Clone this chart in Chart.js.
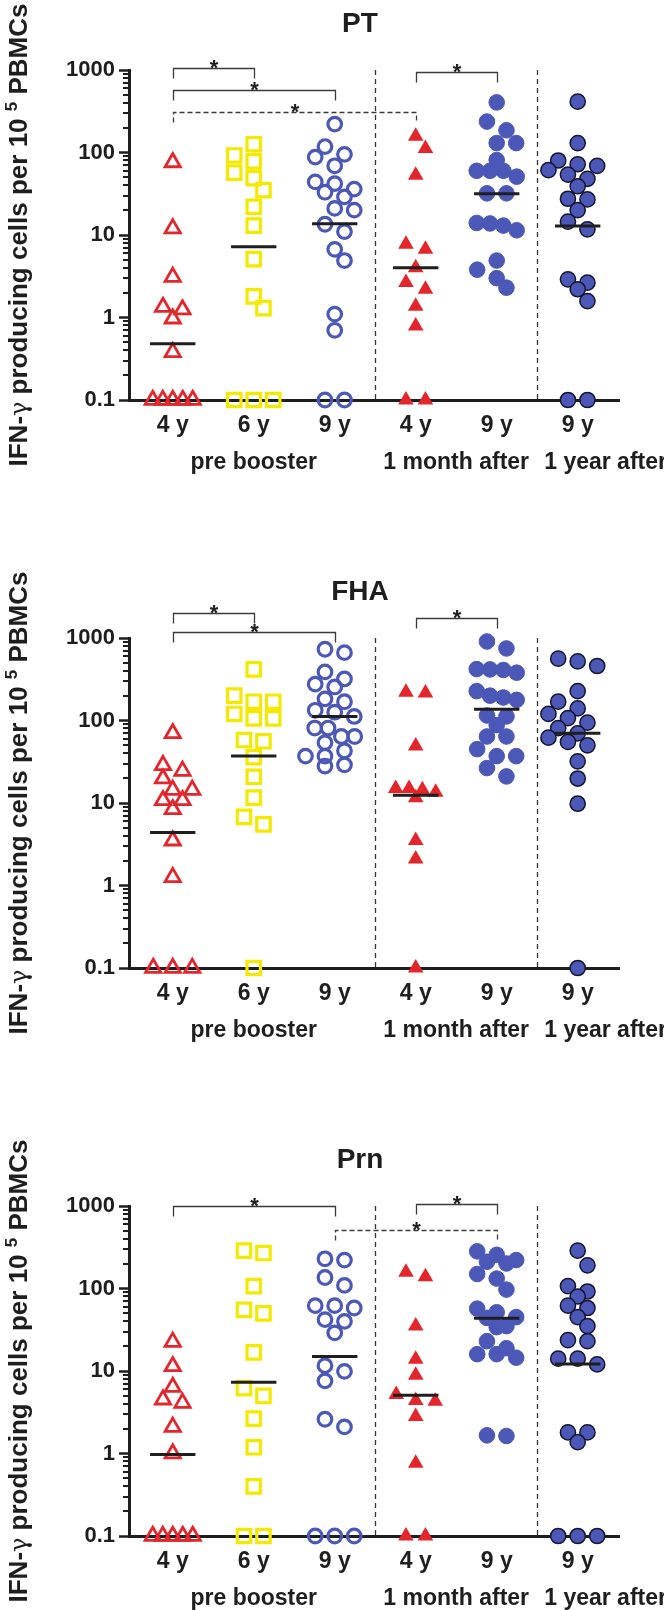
<!DOCTYPE html>
<html lang="en">
<head>
    <meta charset="UTF-8">
    <title>IFN-γ producing cells</title>
    <script src="https://cdn.jsdelivr.net/npm/chart.js"></script>
    <style>
        body {
            margin: 0;
            background: #fff;
            width: 664px;
            height: 1610px;
            overflow: hidden;
            position: relative;
        }
        canvas {
            position: absolute;
            left: 0;
        }
    </style>
</head>
<body>
    <canvas id="ptChart" width="664" height="480" style="top:0px"></canvas>
    <canvas id="fhaChart" width="664" height="480" style="top:568px"></canvas>
    <canvas id="prnChart" width="664" height="480" style="top:1136px"></canvas>

    <script>
        // categories and tick labels
        const categories = ['4 y', '6 y', '9 y', '4 y', '9 y', '9 y'];
        const periods = ['pre booster', '1 month after', '1 year after'];
        const yTicks = [0.1, 1, 10, 100, 1000];

        // PT (undetectable responses are plotted at 0.1)
        const pt4y = [76, 12, 3.1, 1.34, 1.25, 0.97, 0.38, 0.1, 0.1, 0.1, 0.1, 0.1];
        const pt6y = [126, 92, 78, 57, 49, 35, 22, 13, 5.1, 1.8, 1.3, 0.1, 0.1, 0.1];
        const pt9y = [221, 118, 95, 88, 69, 44, 42, 36, 33, 29, 21, 20, 13.5, 11, 6.7, 4.9, 1.1, 0.7, 0.1, 0.1];
        const ptMonth4y = [157, 112, 53, 7.7, 6.7, 4.0, 2.65, 2.2, 1.37, 0.79, 0.1, 0.1];
        const ptMonth9y = [405, 237, 186, 130, 130, 81, 60, 60, 60, 51, 32, 32, 14, 13.8, 13, 11.4, 4.9, 3.8, 3.0, 2.3];
        const ptYear9y = [413, 130, 80, 72, 69, 61, 54, 48, 39, 27.5, 27, 20, 14.5, 11.7, 2.9, 2.65, 2.2, 1.58, 0.1, 0.1];
        const ptMedians = [0.48, 7.2, 13.7, 4.0, 31.6, 12.9];
        const ptBrackets = [[0, 1, 1057, false], [0, 2, 572, false], [0, 3, 310, true], [3, 4, 946, false]];

        // FHA
        const fha4y = [70, 28.7, 24.5, 19.8, 14.4, 14.4, 10.8, 10.8, 8.4, 3.5, 1.26, 0.1, 0.1, 0.1];
        const fha6y = [416, 200, 169, 169, 120, 106, 106, 58, 56, 36, 20.8, 11.6, 6.8, 5.5, 0.1];
        const fha9y = [731, 664, 388, 319, 276, 255, 183, 169, 133, 126, 112, 81, 81, 64, 64, 54, 43, 37, 37, 29, 28];
        const fhaMonth4y = [220, 216, 49, 15, 15, 14.5, 13.5, 11.6, 3.5, 2.1, 0.1];
        const fhaMonth9y = [907, 747, 420, 416, 410, 380, 227, 200, 190, 178, 115, 112, 88, 64, 64, 45, 37, 37, 26.5, 21];
        const fhaYear9y = [562, 520, 458, 227, 169, 140, 120, 107, 94, 81, 70, 62, 55, 50, 32, 19.8, 9.8, 0.1];
        const fhaMedians = [4.4, 37, 112, 12.4, 137, 70];
        const fhaBrackets = [[0, 1, 2010, false], [0, 2, 1183, false], [3, 4, 1740, false]];

        // Prn
        const prn4y = [22.5, 11.4, 6.4, 4.5, 4.1, 2.1, 1.0, 0.1, 0.1, 0.1, 0.1, 0.1];
        const prn6y = [288, 269, 107, 55, 50, 16.8, 6.2, 5.0, 2.65, 1.19, 0.4, 0.1, 0.1];
        const prn9y = [229, 221, 136, 109, 62, 62, 58, 42, 40, 29, 11.6, 9.9, 7.6, 2.6, 2.1, 0.1, 0.1, 0.1];
        const prnMonth4y = [157, 139, 35, 13.9, 8.9, 5.2, 4.4, 4.3, 2.8, 0.76, 0.1, 0.1];
        const prnMonth9y = [282, 256, 221, 211, 201, 150, 132, 97, 57, 51.5, 45, 44, 35, 34, 23, 18.9, 16, 16, 14.5, 1.66, 1.63];
        const prnYear9y = [288, 191, 107, 92, 80, 62, 58, 45, 35, 23.7, 23, 14.1, 14.1, 12, 1.8, 1.8, 1.37, 0.1, 0.1, 0.1];
        const prnMedians = [0.97, 7.3, 15, 5.1, 43.7, 12.2];
        const prnBrackets = [[0, 2, 1000, false], [3, 4, 1069, false], [2, 4, 516, true]];

        const FONT = "'Liberation Sans', Arial, sans-serif";
        const DARK = '#1e1e1e';
        const RED = '#e3262b';
        const YELLOW = '#f3ea00';
        const BLUE = '#4c58b8';

        // plot area inside each canvas
        const PLOT_LEFT = 129, PLOT_RIGHT = 619, PLOT_TOP = 70, PLOT_BOTTOM = 400, CANVAS_H = 480;
        const X_MIN = -0.54, X_MAX = 5.51;
        const PX_DECADE = (PLOT_BOTTOM - PLOT_TOP) / 4;
        const PX_UNIT = (PLOT_RIGHT - PLOT_LEFT) / (X_MAX - X_MIN);

        const markers = [
            { pointStyle: 'triangle', pointRadius: 8.8, pointBackgroundColor: 'rgba(0,0,0,0)', pointBorderColor: RED, pointBorderWidth: 2.8 },
            { pointStyle: 'rect', pointRadius: 9.5, pointBackgroundColor: 'rgba(0,0,0,0)', pointBorderColor: YELLOW, pointBorderWidth: 3.2 },
            { pointStyle: 'circle', pointRadius: 6.8, pointBackgroundColor: 'rgba(0,0,0,0)', pointBorderColor: BLUE, pointBorderWidth: 3.2 },
            { pointStyle: 'triangle', pointRadius: 9, pointBackgroundColor: RED, pointBorderColor: RED, pointBorderWidth: 0 },
            { pointStyle: 'circle', pointRadius: 7.8, pointBackgroundColor: BLUE, pointBorderColor: BLUE, pointBorderWidth: 1 },
            { pointStyle: 'circle', pointRadius: 7.6, pointBackgroundColor: BLUE, pointBorderColor: '#16162e', pointBorderWidth: 1.5 }
        ];

        // column scatter layout: rows of close values spread symmetrically
        const STEP = 19.5, SPAN = 40, ROW_GAP = 9, DIAM = 15;
        function swarm(values, index) {
            const sorted = values.slice().sort((a, b) => b - a);
            const rows = [];
            sorted.forEach(v => {
                const py = Math.log10(v) * PX_DECADE;
                const last = rows[rows.length - 1];
                if (last && last.y0 - py < ROW_GAP) last.vals.push(v);
                else rows.push({ y0: py, vals: [v] });
            });
            const placed = [];
            rows.forEach(r => {
                const n = r.vals.length;
                const step = n > 1 ? Math.min(STEP, SPAN / (n - 1)) : STEP;
                const base = r.vals.map((v, k) => ({ v, py: Math.log10(v) * PX_DECADE, dx: (k - (n - 1) / 2) * step }));
                let best = 0, bestScore = -1;
                [0, STEP / 2, -STEP / 2].forEach(shift => {
                    let minD = Infinity;
                    base.forEach(b => placed.forEach(p => {
                        minD = Math.min(minD, Math.hypot(b.dx + shift - p.dx, b.py - p.py));
                    }));
                    const score = Math.min(minD, DIAM);
                    if (score > bestScore + 0.01) { bestScore = score; best = shift; }
                });
                base.forEach(b => placed.push({ v: b.v, py: b.py, dx: b.dx + best }));
            });
            return placed.map(p => ({ x: index + p.dx / PX_UNIT, y: p.v }));
        }

        function drawYLabel(ctx, cx, cy) {
            const parts = [
                { t: 'IFN-', f: 'bold 26px ' + FONT, dy: 0 },
                { t: 'γ', f: "24px 'DejaVu Serif'", dy: 1 },
                { t: ' producing cells per 10 ', f: 'bold 26px ' + FONT, dy: 0 },
                { t: '5', f: 'bold 17px ' + FONT, dy: -8 },
                { t: ' PBMCs', f: 'bold 26px ' + FONT, dy: 0 }
            ];
            let total = 0;
            parts.forEach(p => { ctx.font = p.f; p.w = ctx.measureText(p.t).width; total += p.w; });
            ctx.save();
            ctx.translate(cx, cy);
            ctx.rotate(-Math.PI / 2);
            ctx.textBaseline = 'middle';
            ctx.textAlign = 'left';
            ctx.fillStyle = DARK;
            let xPos = -total / 2;
            parts.forEach(p => {
                ctx.font = p.f;
                ctx.fillText(p.t, xPos, p.dy);
                xPos += p.w;
            });
            ctx.restore();
        }

        const panelDecor = {
            id: 'panelDecor',
            afterDatasetsDraw(chart, args, opts) {
                const { ctx, chartArea, scales: { x, y } } = chart;
                ctx.save();

                // minor ticks on the log axis
                ctx.strokeStyle = DARK;
                ctx.lineWidth = 2;
                y.ticks.forEach(t => {
                    if (yTicks.includes(t.value)) return;
                    const py = Math.round(y.getPixelForValue(t.value));
                    ctx.beginPath();
                    ctx.moveTo(chartArea.left - 6, py);
                    ctx.lineTo(chartArea.left, py);
                    ctx.stroke();
                });

                // dashed separators between periods
                ctx.lineWidth = 1.3;
                ctx.strokeStyle = '#333';
                ctx.setLineDash([5, 4]);
                [2.5, 4.5].forEach(v => {
                    const px = Math.round(x.getPixelForValue(v)) + 0.5;
                    ctx.beginPath();
                    ctx.moveTo(px, y.getPixelForValue(1000));
                    ctx.lineTo(px, y.getPixelForValue(0.1));
                    ctx.stroke();
                });

                // significance brackets
                ctx.strokeStyle = '#3a3a3a';
                ctx.lineWidth = 1.3;
                ctx.fillStyle = DARK;
                ctx.font = 'bold 22px ' + FONT;
                ctx.textAlign = 'center';
                ctx.textBaseline = 'alphabetic';
                opts.brackets.forEach(([from, to, level, dashed]) => {
                    const x1 = Math.round(x.getPixelForValue(from)) + 0.5;
                    const x2 = Math.round(x.getPixelForValue(to)) + 0.5;
                    const py = Math.round(y.getPixelForValue(level)) + 0.5;
                    ctx.setLineDash(dashed ? [5, 3] : []);
                    ctx.beginPath();
                    ctx.moveTo(x1, py + 10);
                    ctx.lineTo(x1, py);
                    ctx.lineTo(x2, py);
                    ctx.lineTo(x2, py + 10);
                    ctx.stroke();
                    ctx.fillText('*', (x1 + x2) / 2, py + 6);
                });
                ctx.setLineDash([]);

                // period labels under the category labels
                ctx.font = 'bold 23px ' + FONT;
                ctx.textBaseline = 'middle';
                ctx.textAlign = 'center';
                const ly = chartArea.bottom + 63;
                ctx.fillText(periods[0], x.getPixelForValue(1), ly);
                ctx.fillText(periods[1], x.getPixelForValue(3.5), ly);
                ctx.textAlign = 'left';
                ctx.fillText(periods[2], x.getPixelForValue(4.5) + 7, ly);

                // panel title
                ctx.textAlign = 'center';
                ctx.font = 'bold 28px ' + FONT;
                ctx.fillText(opts.title, 360, chartArea.top - 46);

                ctx.restore();

                drawYLabel(ctx, 20, (chartArea.top + chartArea.bottom) / 2);
            }
        };

        function makePanel(canvasId, title, groups, medians, brackets) {
            const datasets = groups.map((vals, i) => Object.assign({
                type: 'scatter',
                data: swarm(vals, i),
                clip: false,
                order: 1
            }, markers[i]));

            const medianPoints = [];
            medians.forEach((m, i) => {
                medianPoints.push({ x: i - 0.28, y: m }, { x: i + 0.28, y: m }, { x: i + 0.5, y: null });
            });
            datasets.push({
                type: 'line',
                data: medianPoints,
                borderColor: DARK,
                borderWidth: 3,
                pointRadius: 0,
                spanGaps: false,
                clip: false,
                order: 0
            });

            const ctx = document.getElementById(canvasId).getContext('2d');
            return new Chart(ctx, {
                type: 'scatter',
                data: { datasets: datasets },
                plugins: [panelDecor],
                options: {
                    responsive: false,
                    animation: false,
                    events: [],
                    layout: { padding: { top: PLOT_TOP, right: 664 - PLOT_RIGHT, left: 0, bottom: 0 } },
                    plugins: {
                        legend: { display: false },
                        tooltip: { enabled: false },
                        panelDecor: { title: title, brackets: brackets }
                    },
                    scales: {
                        x: {
                            type: 'linear',
                            min: X_MIN,
                            max: X_MAX,
                            afterBuildTicks: s => { s.ticks = categories.map((c, i) => ({ value: i })); },
                            afterFit: s => { s.height = CANVAS_H - PLOT_BOTTOM; },
                            grid: { display: false, drawTicks: false },
                            border: { display: true, width: 3, color: DARK },
                            ticks: {
                                autoSkip: false,
                                maxRotation: 0,
                                padding: 12,
                                color: DARK,
                                font: { family: FONT, size: 23, weight: 'bold' },
                                callback: v => categories[v]
                            }
                        },
                        y: {
                            type: 'logarithmic',
                            min: 0.1,
                            max: 1000,
                            afterBuildTicks: s => {
                                const t = [];
                                for (let e = -1; e < 3; e++) {
                                    for (let k = 1; k < 10; k++) t.push({ value: k * Math.pow(10, e) });
                                }
                                t.push({ value: 1000 });
                                s.ticks = t;
                            },
                            afterFit: s => { s.width = PLOT_LEFT; },
                            grid: {
                                display: true,
                                drawOnChartArea: false,
                                drawTicks: true,
                                tickLength: 10,
                                tickWidth: 2.5,
                                tickColor: c => (c.tick && yTicks.includes(c.tick.value)) ? DARK : 'rgba(0,0,0,0)'
                            },
                            border: { display: true, width: 3, color: DARK },
                            ticks: {
                                autoSkip: false,
                                padding: 4,
                                color: DARK,
                                font: { family: FONT, size: 22, weight: 'bold' },
                                callback: v => yTicks.includes(v) ? String(v) : ''
                            }
                        }
                    }
                }
            });
        }

        makePanel('ptChart', 'PT', [pt4y, pt6y, pt9y, ptMonth4y, ptMonth9y, ptYear9y], ptMedians, ptBrackets);
        makePanel('fhaChart', 'FHA', [fha4y, fha6y, fha9y, fhaMonth4y, fhaMonth9y, fhaYear9y], fhaMedians, fhaBrackets);
        makePanel('prnChart', 'Prn', [prn4y, prn6y, prn9y, prnMonth4y, prnMonth9y, prnYear9y], prnMedians, prnBrackets);
    </script>
</body>
</html>
